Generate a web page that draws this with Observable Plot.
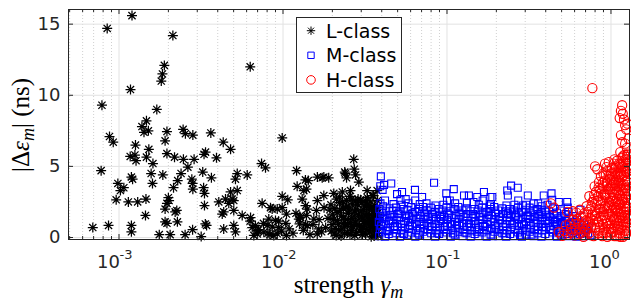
<!DOCTYPE html>
<html><head><meta charset="utf-8">
<script src="https://cdn.jsdelivr.net/npm/d3@7"></script>
<script src="https://cdn.jsdelivr.net/npm/@observablehq/plot@0.6"></script>
<style>html,body{margin:0;padding:0;background:#fff}svg{display:block}</style>
</head><body><div id="chart"></div>
<script>
// L-class: [strength, |Δε| (ns)]
const lClass = [
[1.20e-3,15.6],[8.47e-4,14.7],[2.13e-3,14.2],[1.89e-3,12.1],[1.84e-3,11.5],[1.81e-3,11.0],[6.31e-3,12.0],[1.175e-3,10.4],[7.87e-4,9.3],[1.70e-3,9.0],
[1.47e-3,8.2],[1.38e-3,7.8],[1.42e-3,7.4],[1.51e-3,7.5],[1.96e-3,7.45],[2.46e-3,7.6],[2.54e-3,7.3],[2.82e-3,7.2],[3.63e-3,7.35],[4.32e-3,6.7],
[4.79e-3,6.2],[9.89e-3,7.0],[8.75e-4,7.1],[9.22e-4,6.7],[1.26e-3,6.5],[1.52e-3,6.2],[1.91e-3,6.8],[3.37e-3,6.0],[3.30e-3,5.85],[1.17e-3,5.7],
[1.25e-3,5.8],[1.27e-3,5.4],[1.47e-3,5.65],[1.61e-3,5.2],[1.96e-3,5.9],[2.18e-3,5.65],[2.47e-3,5.5],[2.87e-3,5.5],[2.63e-3,4.95],[7.78e-4,4.7],
[1.57e-3,4.5],[1.85e-3,4.4],[2.39e-3,4.5],[3.24e-3,4.6],[1.19e-3,4.25],[1.21e-3,4.1],[1.60e-3,3.8],[9.84e-4,3.8],[1.02e-3,3.3],[1.07e-3,3.5],
[2.28e-3,4.0],[2.15e-3,3.5],[2.78e-3,4.1],[2.81e-3,3.8],[2.82e-3,3.4],[3.28e-3,3.5],[3.32e-3,3.1],[9.61e-4,2.65],[1.14e-3,2.5],[1.30e-3,2.5],
[1.46e-3,2.7],[2.00e-3,2.8],[1.96e-3,2.4],[1.91e-3,2.0],[2.02e-3,2.6],[2.25e-3,1.9],[2.20e-3,1.8],[3.32e-3,2.25],[1.45e-3,1.55],[1.91e-3,1.1],
[1.96e-3,1.0],[2.27e-3,1.1],[3.36e-3,0.95],[6.92e-4,0.7],[8.63e-4,0.85],[1.19e-3,0.85],[1.19e-3,0.4],[1.76e-3,0.2],[2.05e-3,0.2],[2.53e-3,0.2],
[2.81e-3,0.55],[3.17e-3,0.07],
[3.93e-3,5.6],[7.40e-3,5.2],[7.82e-3,4.9],[3.66e-3,4.2],[5.13e-3,4.1],[5.26e-3,4.5],[6.05e-3,4.4],[0.0121,4.7],[0.01425,4.0],[0.0122,3.6],[0.0139,3.4],
[0.0270,5.5],[0.0238,4.6],[0.0272,4.8],[0.0277,4.4],[0.0244,4.2],[0.01734,4.2],[0.0190,4.2],[0.0290,3.9],
[4.06e-3,2.5],[4.46e-3,2.7],[4.79e-3,3.2],[4.90e-3,2.7],[5.26e-3,3.3],[5.01e-3,2.6],[4.35e-3,1.8],[5.01e-3,1.9],[5.64e-3,1.55],[7.46e-3,2.4],
[8.39e-3,2.1],[8.59e-3,2.0],[9.89e-3,2.9],[0.01069,2.65],[9.89e-3,2.1],[0.0105,1.65],[0.01309,2.7],[0.01371,2.25],[0.01406,2.0],[0.01265,1.5],
[0.01248,1.3],[3.42e-3,0.85],[4.35e-3,0.6],[5.01e-3,0.85],[5.13e-3,0.4],[6.34e-3,1.4],[6.49e-3,0.7],[6.79e-3,0.85],[6.64e-3,0.15],[6.97e-3,0.25],
[8.19e-3,1.3],[8.01e-3,0.85],[9.0e-3,1.2],[9.42e-3,0.7],[8.79e-3,0.15],[0.0105,0.15],[0.01371,0.9],[0.01406,0.85],[0.01542,1.3],[0.01652,0.6],[0.01617,0.25],
[4.26e-3,1.65],[4.67e-3,2.4],[6.3e-3,1.15],[6.97e-3,0.5],[7.64e-3,0.37],[8.31e-3,0.2],[9.22e-3,0.26],[9.22e-3,2.0],[0.0137,4.05],[0.0134,3.3],[0.0162,4.25],[0.0162,2.6],[0.0128,1.4],
[0.01774,4.25],[0.0240,4.5],[0.01774,2.95],[0.0204,3.1],[0.0230,3.2],[0.0258,3.3],[0.0326,3.3],[0.0350,2.95],[0.0375,3.3],
[0.0071,0.55],[0.0076,1.0],[0.0081,0.3],[0.0086,0.75],[0.0094,1.15],[0.0098,0.45],[0.0104,1.0],[0.0109,0.6],[0.0115,0.3],[0.0120,1.7],
[0.0126,0.95],[0.0133,0.5],[0.0139,1.55],[0.0146,0.2],[0.0152,0.9],[0.0160,1.9],[0.0166,1.25],[0.0172,0.4],
[0.0196,2.3],[0.0201,1.6],[0.0199,0.9],[0.0205,0.3],[0.0212,2.7],[0.0215,1.2],[0.0218,0.55],[0.0223,1.9],[0.0226,0.1],[0.0231,2.5],
[0.0235,1.45],[0.0238,0.8],[0.0242,2.1],[0.0247,0.35],[0.0251,1.7],[0.0255,2.9],[0.0258,1.05],[0.0262,0.5],[0.0266,2.35],[0.0271,1.5],
[0.0274,0.15],[0.0279,2.0],[0.0283,0.9],[0.0287,2.7],[0.0291,1.3],[0.0295,0.45],[0.0299,1.85],[0.0303,2.45],[0.0307,0.75],[0.0311,1.15],
[0.0315,2.15],[0.0319,0.25],[0.0323,1.6],[0.0327,2.8],[0.0331,0.95],[0.0335,1.95],[0.0339,0.4],[0.0343,2.5],[0.0347,1.35],[0.0351,0.7],
[0.0355,1.8],[0.0359,0.1],[0.0363,2.25],[0.0367,1.1],[0.0371,0.55],[0.0374,1.65],[0.0377,2.6],[0.0379,0.85],[0.0381,1.4],[0.0376,0.3],
[0.0369,1.9],[0.0357,2.95],[0.0345,0.05],[0.0333,1.3],[0.0318,2.6],[0.0302,0.6],[0.0289,1.6],[0.0276,2.55],[0.0264,0.8],[0.0249,2.2],
[0.0233,1.0],[0.0221,2.45],[0.0208,0.65],[0.0188,1.35],[0.0182,0.7],[0.0178,2.1],
[0.0193,1.95],[0.0197,0.45],[0.0203,1.25],[0.0207,2.05],[0.0211,0.15],[0.0214,1.75],[0.0219,0.95],[0.0222,2.85],[0.0227,1.5],[0.0229,0.6],
[0.0234,2.05],[0.0237,0.3],[0.0241,1.25],[0.0244,2.6],[0.0248,0.9],[0.0253,1.95],[0.0256,0.2],[0.0261,1.35],[0.0263,2.7],[0.0268,0.75],
[0.0272,1.8],[0.0277,1.1],[0.0281,0.35],[0.0285,2.3],[0.0293,0.8],[0.0297,2.65],[0.0301,1.45],[0.0305,0.2],[0.0309,1.95],[0.0313,0.95],
[0.0317,1.5],[0.0321,0.55],[0.0325,2.3],[0.0329,1.1],[0.0337,1.6],[0.0341,0.7],[0.0349,2.1],[0.0353,1.15],[0.0361,0.45],[0.0365,1.55],
[0.0372,2.1],[0.0378,1.15],[0.0380,0.15],[0.0368,0.85],[0.0358,1.4],[0.0346,0.95],[0.0334,2.2]
];
// M-class
const mClass = [
[0.0386,0.1],[0.0389,0.6],[0.0384,1.1],[0.0391,1.5],[0.0387,2.0],[0.0393,2.4],
[0.0402,0.35],[0.0398,0.8],[0.0405,1.3],[0.0400,1.75],[0.0408,2.2],
[0.0418,0.05],[0.0423,0.5],[0.0415,0.95],[0.0421,1.4],[0.0426,1.85],[0.0419,2.6],
[0.0441,0.25],[0.0448,0.7],[0.0443,1.15],[0.0450,1.6],[0.0446,2.05],
[0.0467,0.1],[0.0474,0.55],[0.0469,1.0],[0.0477,1.45],[0.0465,1.9],[0.0472,2.35],
[0.0491,0.3],[0.0498,0.75],[0.0494,1.2],[0.0501,1.65],[0.0489,2.1],
[0.0517,0.05],[0.0523,0.5],[0.0526,0.95],[0.0515,1.4],[0.0521,1.85],[0.0528,2.3],
[0.0546,0.25],[0.0553,0.7],[0.0549,1.15],[0.0556,1.6],[0.0544,2.0],
[0.0577,0.15],[0.0584,0.6],[0.0579,1.05],[0.0586,1.5],[0.0574,1.95],[0.0582,2.4],
[0.0607,0.35],[0.0614,0.8],[0.0609,1.25],[0.0617,1.7],[0.0605,2.15],
[0.0641,0.05],[0.0648,0.5],[0.0644,0.95],[0.0651,1.4],[0.0639,1.8],
[0.0677,0.2],[0.0684,0.65],[0.0679,1.1],[0.0686,1.55],[0.0674,2.0],[0.0682,2.35],
[0.0716,0.4],[0.0724,0.85],[0.0719,1.3],[0.0727,1.75],[0.0713,2.15],
[0.0756,0.1],[0.0764,0.55],[0.0759,1.0],[0.0767,1.45],[0.0752,1.9],
[0.0801,0.3],[0.0809,0.75],[0.0804,1.2],[0.0812,1.65],[0.0797,2.1],
[0.0846,0.05],[0.0854,0.5],[0.0849,0.95],[0.0857,1.35],[0.0843,1.8],[0.0851,2.25],
[0.0896,0.25],[0.0904,0.7],[0.0899,1.15],[0.0907,1.6],[0.0892,2.0],
[0.0946,0.1],[0.0954,0.55],[0.0949,1.0],[0.0957,1.45],[0.0942,1.9],[0.0951,2.3],
[0.0996,0.35],[0.1006,0.8],[0.1001,1.25],[0.1009,1.7],[0.0993,2.1],
[0.1055,0.05],[0.1064,0.5],[0.1059,0.95],[0.1068,1.4],[0.1051,1.85],
[0.1115,0.2],[0.1124,0.65],[0.1119,1.1],[0.1128,1.55],[0.1111,2.0],[0.1121,2.4],
[0.1175,0.4],[0.1186,0.85],[0.1179,1.3],[0.1189,1.75],[0.1171,2.15],
[0.1245,0.1],[0.1256,0.55],[0.1249,1.0],[0.1259,1.45],[0.1241,1.9],
[0.1315,0.3],[0.1327,0.75],[0.1319,1.2],[0.1331,1.65],[0.1311,2.05],[0.1323,2.45],
[0.1395,0.05],[0.1407,0.5],[0.1399,0.95],[0.1411,1.4],[0.1391,1.85],
[0.1475,0.25],[0.1488,0.7],[0.1479,1.15],[0.1492,1.6],[0.1471,2.0],
[0.1555,0.1],[0.1568,0.55],[0.1559,1.0],[0.1572,1.45],[0.1551,1.9],[0.1563,2.3],
[0.1645,0.35],[0.1659,0.8],[0.1649,1.25],[0.1663,1.7],[0.1641,2.1],
[0.1745,0.05],[0.1759,0.5],[0.1749,0.95],[0.1763,1.4],[0.1741,1.8],
[0.1845,0.2],[0.1861,0.65],[0.1849,1.1],[0.1865,1.55],[0.1841,2.0],[0.1855,2.35],
[0.1945,0.4],[0.1961,0.85],[0.1949,1.3],[0.1965,1.75],[0.1941,2.15],
[0.2055,0.1],[0.2072,0.55],[0.2059,1.0],[0.2076,1.45],[0.2051,1.9],
[0.2175,0.3],[0.2193,0.75],[0.2179,1.2],[0.2197,1.65],[0.2171,2.05],
[0.2295,0.05],[0.2314,0.5],[0.2299,0.95],[0.2318,1.4],[0.2291,1.85],[0.2305,2.25],
[0.2425,0.25],[0.2445,0.7],[0.2429,1.15],[0.2449,1.6],[0.2421,2.0],
[0.2565,0.1],[0.2586,0.55],[0.2569,1.0],[0.2591,1.45],[0.2561,1.9],[0.2577,2.3],
[0.2715,0.35],[0.2737,0.8],[0.2719,1.25],[0.2742,1.7],[0.2711,2.1],
[0.2865,0.05],[0.2889,0.5],[0.2869,0.95],[0.2893,1.4],[0.2861,1.8],
[0.3025,0.2],[0.3050,0.65],[0.3029,1.1],[0.3055,1.55],[0.3021,1.95],[0.3039,2.3],
[0.3195,0.4],[0.3221,0.85],[0.3199,1.3],[0.3226,1.75],[0.3191,2.1],
[0.3375,0.1],[0.3403,0.55],[0.3379,1.0],[0.3408,1.45],[0.3371,1.85],
[0.3565,0.3],[0.3594,0.75],[0.3569,1.2],[0.3599,1.65],[0.3561,2.0],
[0.3765,0.05],[0.3796,0.5],[0.3769,0.95],[0.3801,1.4],[0.3761,1.8],[0.3781,2.2],
[0.3975,0.25],[0.4008,0.7],[0.3979,1.15],[0.4013,1.6],[0.3971,1.95],
[0.4195,0.1],[0.4230,0.55],[0.4199,1.0],[0.4236,1.45],[0.4191,1.85],
[0.4435,0.35],[0.4471,0.8],[0.4439,1.25],[0.4477,1.65],[0.4431,2.05],
[0.4685,0.05],[0.4723,0.5],[0.4689,0.95],[0.4730,1.35],[0.4681,1.75],
[0.4945,0.2],[0.4986,0.65],[0.4949,1.1],[0.4993,1.5],[0.4941,1.9],
[0.5225,0.4],[0.5268,0.85],[0.5229,1.25],[0.5275,1.65],
[0.5515,0.1],[0.5560,0.55],[0.5519,0.95],[0.5567,1.4],[0.5511,1.8],
[0.5825,0.3],[0.5872,0.7],[0.5829,1.1],[0.5880,1.5],
[0.6155,0.05],[0.6205,0.45],[0.6159,0.85],[0.6213,1.25],
[0.6495,0.25],[0.6548,0.65],[0.6499,1.05],
[0.6855,0.1],[0.6911,0.5],[0.6859,0.9],
[0.7245,0.3],[0.7304,0.7],[0.7495,0.15],
[0.0395,0.85],[0.0411,1.55],[0.0435,0.45],[0.0458,1.25],[0.0482,0.8],[0.0508,1.7],[0.0535,0.3],[0.0562,1.35],[0.0594,0.85],[0.0625,1.55],
[0.0662,0.3],[0.0698,0.95],[0.0738,1.55],[0.0782,0.8],[0.0826,1.45],[0.0873,0.3],[0.0921,1.3],[0.0972,0.75],[0.103,1.6],[0.109,0.3],
[0.115,0.9],[0.121,1.6],[0.128,0.35],[0.136,1.0],[0.144,1.65],[0.152,0.4],[0.160,1.25],[0.170,0.75],[0.180,1.6],[0.190,0.1],
[0.200,0.7],[0.211,1.25],[0.224,0.3],[0.236,1.7],[0.250,0.9],[0.264,1.55],[0.279,0.15],[0.295,0.85],[0.311,1.5],[0.328,0.2],
[0.347,1.05],[0.366,1.6],[0.387,0.75],[0.409,1.25],[0.432,0.55],[0.456,1.1],[0.481,0.35],[0.508,0.95],[0.537,0.25],[0.567,1.0],
[0.598,0.45],[0.633,0.9],[0.668,0.3],[0.705,0.55],
[0.0395,4.3],[0.0413,3.7],[0.0392,3.6],[0.0405,3.35],[0.0457,3.8],[0.0496,3.05],[0.0532,3.2],[0.0638,3.35],[0.0834,3.85],[0.0705,2.85],
[0.099,3.1],[0.110,3.4],[0.127,2.95],[0.136,2.95],[0.153,2.85],[0.168,3.2],[0.184,2.85],[0.064,2.6],[0.056,2.7],[0.052,2.65],
[0.075,2.4],[0.100,2.6],[0.104,2.6],[0.145,2.5],[0.165,2.6],[0.183,2.25],
[0.246,3.65],[0.270,3.5],[0.233,3.3],[0.235,2.95],[0.311,2.95],[0.272,2.6],[0.189,2.85],[0.389,2.95],[0.434,3.1],[0.438,2.65],
[0.481,2.5],[0.541,2.5],[0.545,2.1],[0.338,2.4],[0.652,1.95],[0.41,2.3],[0.29,2.25],[0.36,2.4]
];
// H-class
const hClass = [
[0.43,2.4],[0.45,2.1],[0.54,1.8],[0.48,0.37],[0.53,0.85],[0.505,0.12],[0.52,0.45],[0.545,0.2],[0.56,1.0],[0.575,0.35],
[0.59,1.25],[0.57,0.6],[0.585,1.85],[0.6,0.15],[0.61,0.55],[0.605,0.95],[0.62,1.3],[0.615,1.75],
[0.77,10.5],[1.17,9.3],[1.15,8.9],[1.18,8.7],[1.13,8.4],[1.2,8.3],[1.15,7.2],[1.17,6.7],[1.28,6.95],[0.8,5.0],
[0.825,4.8],[0.97,5.3],[0.94,4.95],[1.05,5.5],[1.14,6.0],[0.92,5.2],[1.24,7.6],[1.26,8.0],[1.22,7.9],
[1.25,6.3],[1.27,5.9],[1.22,6.6],[1.26,5.5],
[0.635,0.2],[0.648,0.6],[0.64,1.0],[0.655,1.5],[0.645,1.95],
[0.68,0.05],[0.695,0.4],[0.672,0.8],[0.705,1.2],[0.688,1.7],[0.71,2.2],[0.676,1.45],
[0.735,0.3],[0.755,0.7],[0.742,1.1],[0.765,1.6],[0.748,2.0],[0.77,2.5],[0.738,2.9],[0.76,0.15],
[0.785,0.1],[0.805,0.5],[0.792,0.9],[0.815,1.3],[0.798,1.8],[0.82,2.3],[0.788,2.7],[0.81,3.2],[0.795,3.6],
[0.835,0.3],[0.855,0.7],[0.842,1.1],[0.865,1.5],[0.848,2.0],[0.87,2.4],[0.838,2.9],[0.86,3.4],[0.845,3.9],[0.868,4.3],
[0.885,0.1],[0.905,0.5],[0.892,0.95],[0.915,1.35],[0.898,1.8],[0.92,2.2],[0.888,2.6],[0.91,3.1],[0.895,3.6],[0.918,4.0],[0.9,4.5],
[0.935,0.35],[0.955,0.8],[0.942,1.2],[0.965,1.65],[0.948,2.05],[0.97,2.5],[0.938,3.0],[0.96,3.4],[0.945,3.85],[0.968,4.3],[0.952,4.7],
[0.985,0.15],[1.005,0.6],[0.992,1.0],[1.015,1.45],[0.998,1.9],[1.02,2.3],[0.988,2.75],[1.01,3.2],[0.995,3.6],[1.018,4.05],[1.0,4.5],[1.012,4.9],
[1.035,0.4],[1.055,0.85],[1.042,1.25],[1.065,1.7],[1.048,2.15],[1.07,2.55],[1.038,3.0],[1.06,3.45],[1.045,3.85],[1.068,4.3],[1.052,4.8],[1.04,5.2],
[1.085,0.1],[1.105,0.55],[1.092,1.0],[1.115,1.4],[1.098,1.85],[1.12,2.3],[1.088,2.7],[1.11,3.15],[1.095,3.6],[1.118,4.0],[1.1,4.5],[1.112,4.95],[1.09,5.4],
[1.135,0.3],[1.158,0.75],[1.142,1.2],[1.165,1.6],[1.148,2.05],[1.17,2.5],[1.138,2.9],[1.16,3.35],[1.145,3.8],[1.168,4.25],[1.152,4.7],[1.14,5.15],[1.162,5.6],
[1.185,0.05],[1.208,0.5],[1.192,0.9],[1.215,1.35],[1.198,1.8],[1.22,2.2],[1.188,2.65],[1.21,3.1],[1.195,3.5],[1.218,3.95],[1.2,4.4],[1.212,4.85],[1.19,5.3],[1.205,5.8],
[1.235,0.25],[1.26,0.7],[1.242,1.1],[1.27,1.55],[1.248,2.0],[1.275,2.4],[1.238,2.85],[1.265,3.3],[1.245,3.7],[1.272,4.15],[1.25,4.6],[1.268,5.05],[1.24,5.5],
[0.71,0.6],[0.75,1.35],[0.8,0.7],[0.8,1.55],[0.83,2.55],[0.85,0.5],[0.88,1.25],[0.87,3.1],[0.9,0.3],[0.91,2.0],
[0.93,2.8],[0.94,1.0],[0.95,3.65],[0.97,0.6],[0.98,2.1],[0.99,3.4],[1.0,1.2],[1.02,4.3],[1.03,2.8],[1.04,0.65],
[1.06,1.95],[1.07,4.05],[1.08,3.3],[1.09,1.2],[1.1,2.5],[1.11,4.25],[1.13,0.55],[1.14,3.6],[1.15,1.8],[1.16,4.95],
[1.17,2.75],[1.19,1.1],[1.2,3.7],[1.21,2.4],[1.22,4.65],[1.23,0.45],[1.24,1.8],[1.25,3.95],[1.26,2.65],[1.27,4.85],
[1.28,1.3],[1.18,5.7],[1.12,5.2],[1.07,5.0],[1.25,5.8],
[0.66,0.35],[0.69,1.0],[0.72,1.8],[0.73,0.9],[0.76,2.2],[0.78,1.2],[0.79,3.0],[0.82,1.75],[0.84,3.5],[0.86,2.05],
[0.89,3.85],[0.9,1.55],[0.92,2.95],[0.93,4.4],[0.96,2.25],[0.98,4.1],[1.0,0.35],[1.01,2.6],[1.03,3.7],[1.05,1.4],
[1.06,4.55],[1.08,2.05],[1.1,0.8],[1.11,3.85],[1.13,2.35],[1.15,4.45],[1.16,1.4],[1.18,3.25],[1.19,5.0],[1.21,1.55],
[1.23,3.45],[1.24,5.25],[1.26,1.0],[1.27,3.05],[1.28,4.45],[1.25,2.15],[1.22,0.2],[1.14,0.05],[1.05,0.1],[0.95,0.05]
];
const xDecades = [1e-3, 1e-2, 1e-1, 1];
const xTickExponents = ["-3", "-2", "-1", "0"];
const yTicks = [0, 5, 10, 15];
const legendLabels = ["L-class", "M-class", "H-class"];

const W = 631, H = 301, mL = 68, mR = 2, mT = 9, mB = 62;
const innerW = W - mL - mR, innerH = H - mT - mB;
const xDomain = [4.92e-4, 1.297];
const xMinor = [];
for (const d of [1e-4, 1e-3, 1e-2, 1e-1]) for (let k = 2; k <= 9; k++) {
  const v = k * d; if (v > xDomain[0] && v < xDomain[1]) xMinor.push(v);
}
const asterisk = {draw(ctx, size) {
  const r = Math.sqrt(size / Math.PI), d = r * 0.72;
  ctx.moveTo(-r, 0); ctx.lineTo(r, 0); ctx.moveTo(0, -r); ctx.lineTo(0, r);
  ctx.moveTo(-d, -d); ctx.lineTo(d, d); ctx.moveTo(-d, d); ctx.lineTo(d, -d);
}};
const squareSym = {draw(ctx, size) {
  const r = Math.sqrt(size / Math.PI); ctx.rect(-r, -r, 2 * r, 2 * r);
}};
const circleSym = {draw(ctx, size) {
  const r = Math.sqrt(size / Math.PI); ctx.moveTo(r, 0); ctx.arc(0, 0, r, 0, 2 * Math.PI);
}};
const axisColor = "#262626";

const svg = Plot.plot({
  width: W, height: H,
  marginLeft: mL, marginRight: mR, marginTop: mT, marginBottom: mB,
  style: {fontFamily: "'DejaVu Sans', sans-serif", fontSize: "18px", color: axisColor, background: "#fff", overflow: "visible"},
  x: {type: "log", domain: xDomain, axis: null},
  y: {domain: [-0.14, 16.03], axis: null},
  marks: [
    Plot.ruleX(xMinor, {stroke: "#c4c4c4", strokeDasharray: "1,2", strokeWidth: 0.8}),
    Plot.ruleX(xDecades, {stroke: "#e2e2e2"}),
    Plot.ruleY(yTicks, {stroke: "#e2e2e2"}),
    Plot.dot(lClass, {x: d => d[0], y: d => d[1], symbol: asterisk, r: 5, stroke: "#000", fill: "none", strokeWidth: 1.25}),
    Plot.dot(mClass, {x: d => d[0], y: d => d[1], symbol: squareSym, r: 3.5, stroke: "#0000ff", fill: "none", strokeWidth: 1.1}),
    Plot.dot(hClass, {x: d => d[0], y: d => d[1], symbol: circleSym, r: 4.6, stroke: "#ff0000", fill: "none", strokeWidth: 1.1}),
    Plot.frame({stroke: axisColor}),
    Plot.tickX(xDecades, {x: d => d, insetTop: innerH - 5, stroke: axisColor}),
    Plot.tickX(xDecades, {x: d => d, insetBottom: innerH - 5, stroke: axisColor}),
    Plot.tickX(xMinor, {x: d => d, insetTop: innerH - 3, stroke: axisColor}),
    Plot.tickX(xMinor, {x: d => d, insetBottom: innerH - 3, stroke: axisColor}),
    Plot.tickY(yTicks, {y: d => d, insetRight: innerW - 5, stroke: axisColor}),
    Plot.tickY(yTicks, {y: d => d, insetLeft: innerW - 5, stroke: axisColor}),
    Plot.text(yTicks, {y: d => d, frameAnchor: "left", text: d => String(d), textAnchor: "end", dx: -8, fontSize: 18, fill: axisColor}),
    Plot.text(xDecades, {x: d => d, frameAnchor: "bottom", text: () => "10", textAnchor: "end", lineAnchor: "middle", dy: 23, dx: 1, fontSize: 18, fill: axisColor}),
    Plot.text(xDecades, {x: d => d, frameAnchor: "bottom", text: (d, i) => xTickExponents[i], textAnchor: "start", lineAnchor: "middle", dy: 15, dx: 0.5, fontSize: 13, fill: axisColor})
  ]
});
document.getElementById("chart").appendChild(svg);

const sel = d3.select(svg);
// legend
const leg = sel.append("g").attr("font-family", "'DejaVu Sans', sans-serif").attr("text-anchor", "start");
leg.append("rect").attr("x", 296.5).attr("y", 17.5).attr("width", 105).attr("height", 75)
  .attr("fill", "#fff").attr("stroke", axisColor);
const legRows = [
  {sym: asterisk, r: 4.2, color: "#000"},
  {sym: squareSym, r: 3.2, color: "#0000ff"},
  {sym: circleSym, r: 4.3, color: "#ff0000"}
];
legRows.forEach((row, i) => {
  const cy = 30.7 + i * 24.6;
  const p = d3.path(); row.sym.draw(p, row.r * row.r * Math.PI);
  leg.append("path").attr("d", p.toString()).attr("transform", `translate(311,${cy})`)
    .attr("fill", "none").attr("stroke", row.color).attr("stroke-width", 1);
  leg.append("text").attr("x", 326).attr("y", cy + 7).attr("font-size", 19).attr("fill", "#000")
    .attr("text-anchor", "start").text(legendLabels[i]);
});
// axis labels
const serif = "'Liberation Serif', 'Times New Roman', serif";
const xl = sel.append("text").attr("x", mL + innerW / 2).attr("y", 293).attr("text-anchor", "middle")
  .attr("font-family", serif).attr("font-size", 25).attr("fill", "#000");
xl.append("tspan").text("strength ");
xl.append("tspan").attr("font-style", "italic").text("γ");
xl.append("tspan").attr("font-style", "italic").attr("font-size", 18).attr("dy", 5).text("m");
const yl = sel.append("text").attr("transform", `translate(29,${mT + innerH / 2 + 1}) rotate(-90)`).attr("text-anchor", "middle")
  .attr("font-family", serif).attr("font-size", 25).attr("fill", "#000");
yl.append("tspan").text("|Δ");
yl.append("tspan").attr("font-style", "italic").text("ε");
yl.append("tspan").attr("font-style", "italic").attr("font-size", 18).attr("dy", 5).text("m");
yl.append("tspan").attr("dy", -5).text("| (ns)");
</script>
</body></html>
